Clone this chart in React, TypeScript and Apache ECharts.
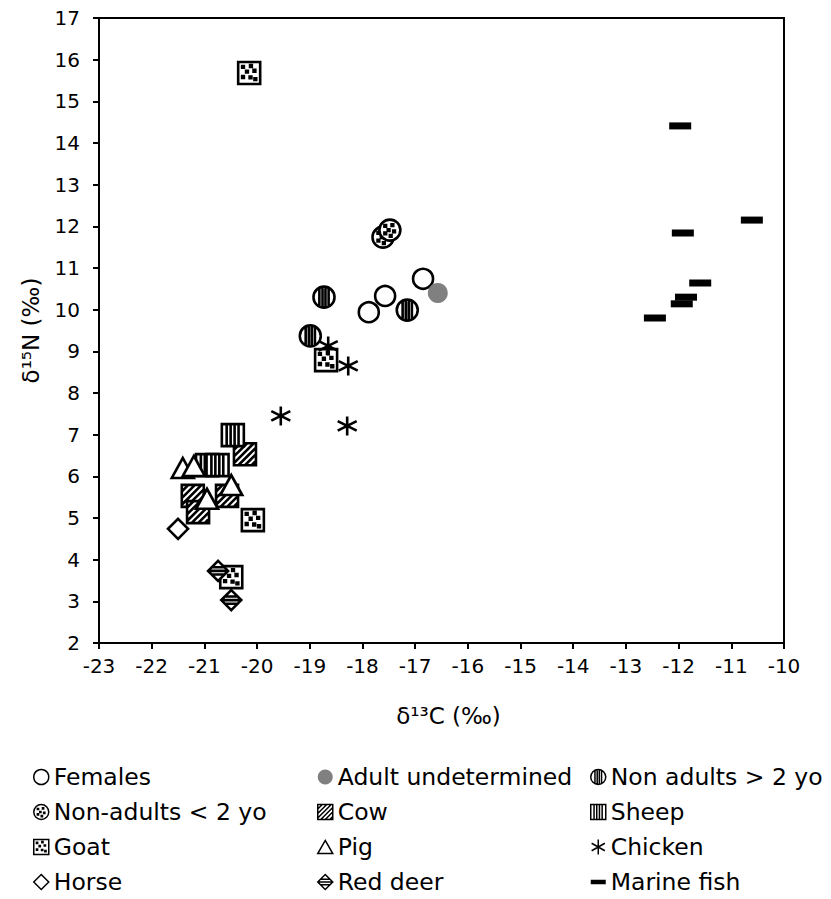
import React, { useEffect, useRef } from "react";
import * as echarts from "echarts";

// ---- Data (δ13C, δ15N) ----
const females = [[-17.88, 9.94], [-17.57, 10.33], [-16.85, 10.74]];
const adultUndetermined = [[-16.57, 10.4]];
const nonAdultsOver2 = [[-18.73, 10.3], [-17.15, 9.99], [-18.99, 9.37]];
const nonAdultsUnder2 = [[-17.61, 11.74], [-17.48, 11.91]];
const cow = [[-20.23, 6.53], [-21.22, 5.53], [-20.57, 5.53], [-21.12, 5.14]];
const sheep = [[-20.46, 6.99], [-20.95, 6.27], [-20.75, 6.27]];
const goat = [[-20.15, 15.68], [-18.69, 8.79], [-20.08, 4.95], [-20.49, 3.58]];
const pig = [[-21.41, 6.2], [-21.2, 6.25], [-20.95, 5.46], [-20.49, 5.79]];
const chicken = [[-18.65, 9.13], [-18.27, 8.65], [-19.55, 7.45], [-18.29, 7.21]];
const horse = [[-21.5, 4.74]];
const redDeer = [[-20.74, 3.73], [-20.49, 3.03]];
const marineFish = [[-11.97, 14.41], [-10.61, 12.15], [-11.92, 11.84], [-11.59, 10.64], [-11.86, 10.3], [-11.94, 10.14], [-12.45, 9.8]];

const legendCol1 = ["Females", "Non-adults < 2 yo", "Goat", "Horse"];
const legendCol2 = ["Adult undetermined", "Cow", "Pig", "Red deer"];
const legendCol3 = ["Non adults > 2 yo", "Sheep", "Chicken", "Marine fish"];

// ---- Symbol shapes ----
const CIRCLE = "M0 50 A50 50 0 1 1 100 50 A50 50 0 1 1 0 50 Z";
const SQUARE = "M0 0 H100 V100 H0 Z";
const DIAMOND = "M50 0 L100 50 L50 100 L0 50 Z";
const dots = (pts: number[][], s: number) =>
  pts.map(([x, y]) => `M${x} ${y} h${s} v${s} h-${s} Z`).join(" ");
const diagonals = () => {
  const parts: string[] = [];
  for (let c = 30; c < 200; c += 30) {
    if (c <= 100) parts.push(`M0 ${c} L${c} 0`);
    else parts.push(`M${c - 100} 100 L100 ${c - 100}`);
  }
  return parts.join(" ");
};
const SYM = {
  naOver2: "path://" + CIRCLE + " M28 8.5 V91.5 M43 0.5 V99.5 M57 0.5 V99.5 M72 8.5 V91.5",
  naUnder2: "path://" + CIRCLE + " " + dots([[24, 26], [58, 22], [40, 46], [66, 52], [24, 62], [50, 74]], 8),
  cow: "path://" + SQUARE + " " + diagonals(),
  sheep: "path://" + SQUARE + " M22 0 V100 M40 0 V100 M58 0 V100 M76 0 V100",
  goat: "path://" + SQUARE + " " + dots([[18, 18], [54, 14], [36, 40], [70, 36], [18, 64], [52, 66], [74, 74]], 8),
  pig: "path://M50 0 L100 87 L0 87 Z",
  chicken: "path://M50 0 V100 M6 25 L94 75 M6 75 L94 25",
  horse: "path://" + DIAMOND,
  deer: "path://" + DIAMOND + " M18 32 H82 M0 50 H100 M18 68 H82",
};

const FONT = "DejaVu Sans";

export default function App() {
  const ref = useRef<HTMLDivElement>(null);
  useEffect(() => {
    const chart = echarts.init(ref.current!, undefined, { renderer: "svg" });
    const outline = { color: "#fff", borderColor: "#000", borderWidth: 2.6, opacity: 1 };
    const mk = (name: string, data: number[][], symbol: string, size: any, itemStyle: any = outline) => ({
      type: "scatter",
      name,
      data,
      symbol,
      symbolSize: size,
      itemStyle,
      emphasis: { disabled: true },
    });
    const legendBase = {
      orient: "vertical",
      top: 765,
      padding: 0,
      itemWidth: 15,
      itemHeight: 15,
      itemGap: 11,
      selectedMode: false,
      itemStyle: { borderWidth: 1.5, opacity: 1 },
      textStyle: { fontFamily: FONT, fontSize: 23.5, color: "#000", lineHeight: 24 },
    };
    chart.setOption({
      animation: false,
      textStyle: { fontFamily: FONT },
      grid: { left: 99, right: 47, top: 18, bottom: 256, show: true, borderColor: "#000", borderWidth: 2 },
      xAxis: {
        type: "value",
        min: -23,
        max: -10,
        interval: 1,
        name: "δ¹³C (‰)",
        nameLocation: "middle",
        nameGap: 61,
        nameTextStyle: { fontFamily: FONT, fontSize: 23, color: "#000", padding: [0, 0, 0, 14] },
        axisLine: { lineStyle: { color: "#000", width: 2 } },
        axisTick: { inside: false, length: 6, lineStyle: { color: "#000", width: 2 } },
        axisLabel: { fontFamily: FONT, fontSize: 20, color: "#000", margin: 13 },
        splitLine: { show: false },
      },
      yAxis: {
        type: "value",
        min: 2,
        max: 17,
        interval: 1,
        name: "δ¹⁵N (‰)",
        nameLocation: "middle",
        nameGap: 57,
        nameTextStyle: { fontFamily: FONT, fontSize: 23, color: "#000" },
        axisLine: { lineStyle: { color: "#000", width: 2 } },
        axisTick: { inside: false, length: 6, lineStyle: { color: "#000", width: 2 } },
        axisLabel: { fontFamily: FONT, fontSize: 20, color: "#000", margin: 19 },
        splitLine: { show: false },
      },
      legend: [
        { ...legendBase, left: 33, data: legendCol1 },
        { ...legendBase, left: 317, data: legendCol2 },
        {
          ...legendBase,
          left: 590,
          data: legendCol3.map((n) =>
            n === "Marine fish" ? { name: n, icon: "path://M0 0 H100 V30 H0 Z" } : n
          ),
        },
      ],
      series: [
        mk("Females", females, "circle", 20),
        mk("Adult undetermined", adultUndetermined, "circle", 20, { color: "#808080", borderWidth: 0, opacity: 1 }),
        mk("Non adults > 2 yo", nonAdultsOver2, SYM.naOver2, 21),
        mk("Non-adults < 2 yo", nonAdultsUnder2, SYM.naUnder2, 21),
        mk("Cow", cow, SYM.cow, 22),
        mk("Sheep", sheep, SYM.sheep, 22),
        mk("Goat", goat, SYM.goat, 22),
        mk("Pig", pig, SYM.pig, [22, 20]),
        mk("Chicken", chicken, SYM.chicken, 19),
        mk("Horse", horse, SYM.horse, 20),
        mk("Red deer", redDeer, SYM.deer, 20),
        mk("Marine fish", marineFish, "rect", [22, 7], { color: "#000", borderWidth: 0, opacity: 1 }),
      ],
    });
    return () => chart.dispose();
  }, []);
  return (
    <div
      ref={ref}
      style={{ position: "fixed", left: 0, top: 0, width: 831, height: 899, background: "#fff" }}
    />
  );
}
